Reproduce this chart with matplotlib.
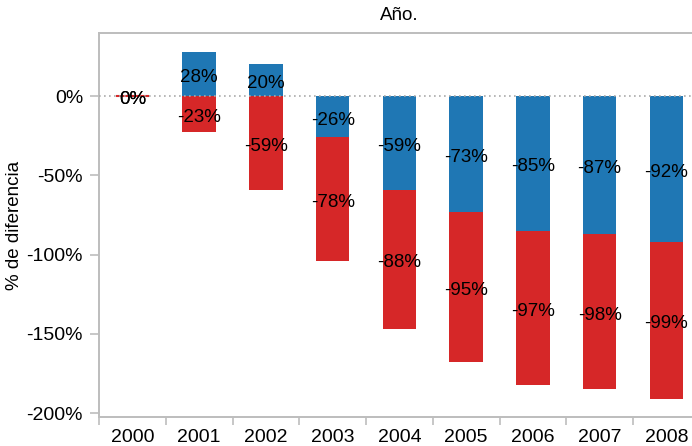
import matplotlib
matplotlib.use("Agg")
import matplotlib.pyplot as plt
import numpy as np

plt.rcParams['font.family'] = ['Liberation Sans', 'DejaVu Sans']

years = ['2000', '2001', '2002', '2003', '2004', '2005', '2006', '2007', '2008']
serie_azul = [0, 28, 20, -26, -59, -73, -85, -87, -92]
serie_roja = [0, -23, -59, -78, -88, -95, -97, -98, -99]
yticks = [0, -50, -100, -150, -200]
ytick_labels = ['0%', '-50%', '-100%', '-150%', '-200%']

BLUE = '#1f77b4'
RED = '#d62728'
GRAY = '#bdbdbd'
FS = 13.5
FS_TICK = 14

fig = plt.figure(figsize=(6.92, 4.46), dpi=100)
W, H = 692, 446
left, right, top, bottom = 99, 699.75, 33, 417
ax = fig.add_axes([left / W, (H - bottom) / H, (right - left) / W, (bottom - top) / H])

x = np.arange(len(years))
width = 0.5
azul = np.array(serie_azul, dtype=float)
roja = np.array(serie_roja, dtype=float)
roja_base = np.minimum(azul, 0)

ax.bar(x, azul, width, color=BLUE, zorder=2)
ax.bar(x, roja, width, bottom=roja_base, color=RED, edgecolor=RED,
       linewidth=np.where(roja == 0, 1.5, 0), zorder=2)

ax.axhline(0, color='#aaaaaa', linestyle=(0, (1, 2)), linewidth=1.2, zorder=3)

for xi, a, r, rb in zip(x, azul, roja, roja_base):
    ax.annotate(f'{a:.0f}%', (xi, a / 2), xytext=(0, -2.5), textcoords='offset points',
                ha='center', va='center', fontsize=FS, color='black', zorder=4)
    ax.annotate(f'{r:.0f}%', (xi, rb + r / 2), xytext=(0, -2.5), textcoords='offset points',
                ha='center', va='center', fontsize=FS, color='black', zorder=4)

ax.set_xlim(-0.5, len(years) - 0.5)
ax.set_ylim(-202.5, 39.75)

ax.set_yticks(yticks)
ax.set_yticklabels(ytick_labels)
ax.set_xticks(np.arange(len(years) + 1) - 0.5)
ax.set_xticklabels([])
ax.set_xticks(x, minor=True)
ax.set_xticklabels(years, minor=True)
ax.tick_params(axis='x', which='major', length=6, color=GRAY, width=1.2, direction='out')
ax.tick_params(axis='x', which='minor', length=0, pad=9, labelsize=FS_TICK)
ax.tick_params(axis='y', length=6.5, color=GRAY, width=1.2, pad=5, labelsize=FS_TICK)

for s in ['left', 'top', 'bottom']:
    ax.spines[s].set_color(GRAY)
    ax.spines[s].set_linewidth(1.4)
ax.spines['right'].set_visible(False)

ax.set_title('Año.', fontsize=FS, pad=9)
ax.set_ylabel('% de diferencia', fontsize=FS, va='center')
ax.yaxis.set_label_coords(-0.14, 0.5)

fig.savefig('out.png', dpi=100)
